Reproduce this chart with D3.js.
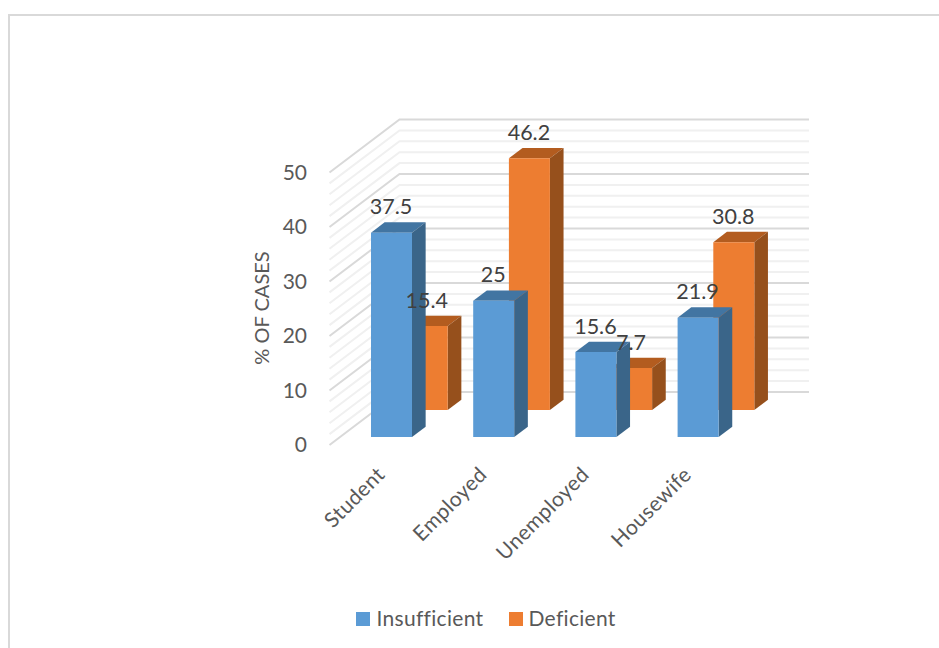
<!DOCTYPE html>
<html>
<head>
<meta charset="utf-8">
<script src="https://cdn.jsdelivr.net/npm/d3@7"></script>
<style>
  html, body { margin: 0; padding: 0; background: #fff; }
  svg { display: block; }
  text { font-family: Lato, "Open Sans", sans-serif; }
</style>
</head>
<body>
<svg id="chart" width="939" height="648"></svg>
<script>
const categories = ["Student", "Employed", "Unemployed", "Housewife"];
const insufficient = [37.5, 25, 15.6, 21.9];
const deficient = [15.4, 46.2, 7.7, 30.8];
const seriesNames = ["Insufficient", "Deficient"];
const seriesValues = [insufficient, deficient];
const frontColors = ["#5b9bd5", "#ed7d31"];
const sideColors = ["#3a6589", "#96501c"];
const topColors = ["#4275a2", "#b35c1f"];
const valueTicks = [0, 10, 20, 30, 40, 50];
const minorTicks = d3.range(0, 50.01, 2);

const svg = d3.select("#chart");

// Outer chart frame, open on the right and bottom
svg.append("path")
  .attr("d", "M9,648V15H939")
  .attr("fill", "none")
  .attr("stroke", "#d9d9d9")
  .attr("stroke-width", 2);

// Oblique projection: a point is placed by horizontal position, value and depth
const wallBase = 392;
const yValue = d3.scaleLinear().domain([0, 50]).range([0, 272.5]);
const depthX = d3.scaleLinear().domain([0, 1]).range([0, 70]);
const depthY = d3.scaleLinear().domain([0, 1]).range([0, 53]);
const xCat = d3.scaleBand().domain(categories).range([430.5, 839.3]);

// depth: 0 is the back wall, 1 is the front edge of the floor
const project = (px, value, depth) => [
  px - depthX(depth),
  wallBase + depthY(depth) - yValue(value)
];

// Gridlines on the back wall and the left side wall
const grid = svg.append("g");
minorTicks.forEach(v => {
  const major = v % 10 === 0;
  const [bx, by] = project(399.5, v, 0);
  const [fx, fy] = project(399.5, v, 1);
  grid.append("path")
    .attr("d", `M${fx},${fy}L${bx},${by}H809`)
    .attr("fill", "none")
    .attr("stroke", major ? "#d9d9d9" : "#f0f0f0")
    .attr("stroke-width", 2);
});

// Row depth of each series, and the size of one bar
const seriesDepth = [0.85, 0.34];
const barWidth = 41;
const barDepth = 0.195;

// Rows are painted back to front so the blue row overlaps the orange one
const bars = svg.append("g");
[1, 0].forEach(s => {
  const depth = seriesDepth[s];
  seriesValues[s].forEach((v, i) => {
    const left = xCat(categories[i]);
    const right = left + barWidth;
    const fbl = project(left, 0, depth);
    const fbr = project(right, 0, depth);
    const ftl = project(left, v, depth);
    const ftr = project(right, v, depth);
    const bbr = project(right, 0, depth - barDepth);
    const btr = project(right, v, depth - barDepth);
    const btl = project(left, v, depth - barDepth);
    const g = bars.append("g");
    g.append("polygon")
      .attr("points", [ftl, ftr, btr, btl].join(" "))
      .attr("fill", topColors[s]);
    g.append("polygon")
      .attr("points", [ftr, btr, bbr, fbr].join(" "))
      .attr("fill", sideColors[s]);
    g.append("polygon")
      .attr("points", [ftl, ftr, fbr, fbl].join(" "))
      .attr("fill", frontColors[s]);
  });
});

// Value labels above each bar, drawn over all the bars
const labelLayer = svg.append("g");
[1, 0].forEach(s => {
  const depth = seriesDepth[s];
  seriesValues[s].forEach((v, i) => {
    const p = project(xCat(categories[i]) + barWidth / 2, v, depth);
    labelLayer.append("text")
      .attr("x", p[0] - 0.5)
      .attr("y", p[1] - 18.5)
      .attr("text-anchor", "middle")
      .attr("font-size", 21.5)
      .attr("fill", "#404040")
      .text(v);
  });
});

// Value axis
valueTicks.forEach(v => {
  const p = project(399.5, v, 1);
  svg.append("text")
    .attr("x", 307)
    .attr("y", p[1] + 7)
    .attr("text-anchor", "end")
    .attr("font-size", 21)
    .attr("fill", "#595959")
    .text(v);
});

svg.append("text")
  .attr("transform", "translate(268.5,308) rotate(-90)")
  .attr("text-anchor", "middle")
  .attr("font-size", 20)
  .attr("fill", "#595959")
  .text("% OF CASES");

// Category labels, rotated and ending under each bar group
categories.forEach(c => {
  svg.append("text")
    .attr("transform", `translate(${xCat(c) - 44.5},476) rotate(-45)`)
    .attr("text-anchor", "end")
    .attr("font-size", 21)
    .attr("letter-spacing", 0.4)
    .attr("fill", "#595959")
    .text(c);
});

// Legend
const legendX = [356, 509];
const legendTextX = [376.5, 528.5];
seriesNames.forEach((name, i) => {
  svg.append("rect")
    .attr("x", legendX[i]).attr("y", 612)
    .attr("width", 14).attr("height", 14)
    .attr("fill", frontColors[i]);
  svg.append("text")
    .attr("x", legendTextX[i]).attr("y", 626)
    .attr("font-size", 21)
    .attr("letter-spacing", 0.3)
    .attr("fill", "#595959")
    .text(name);
});
</script>
</body>
</html>
